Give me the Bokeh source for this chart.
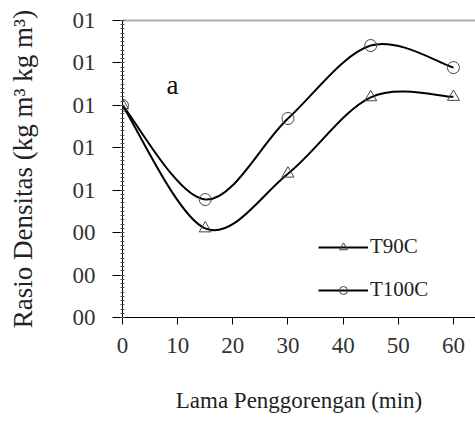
import numpy as np
from bokeh.plotting import figure
from bokeh.models import (LinearAxis, FixedTicker, Label, Legend, LegendItem, Range1d)
from bokeh.embed import file_html
from bokeh.resources import INLINE

# ---- data ----
minutes = [0, 15, 30, 45, 60]
t90c = [5.0, 2.1, 3.39, 5.19, 5.2]
t100c = [5.0, 2.78, 4.69, 6.41, 5.89]
y_ticks = [0, 1, 2, 3, 4, 5, 6, 7]
y_tick_labels = ["00", "00", "00", "01", "01", "01", "01", "01"]
x_ticks = [0, 10, 20, 30, 40, 50, 60]
series_names = ["T90C", "T100C"]

FONT = "Liberation Serif"

p = figure(frame_width=353, frame_height=297,
           x_range=Range1d(0, 64), y_range=Range1d(0, 7),
           output_backend="svg", toolbar_location=None,
           min_border_left=122, min_border_right=0, min_border_top=20,
           min_border_bottom=104)
p.outline_line_color = None
p.xgrid.visible = False
p.ygrid.visible = False
p.background_fill_color = "white"
p.border_fill_color = "white"


def smooth_segments(xs, ys, k=1.0 / 6.0):
    n = len(xs)
    P = [np.array([xs[i], ys[i]], dtype=float) for i in range(n)]
    out = {k_: [] for k_ in ["x0", "y0", "x1", "y1", "cx0", "cy0", "cx1", "cy1"]}
    for i in range(n - 1):
        pm = P[i - 1] if i > 0 else P[i]
        pn2 = P[i + 2] if i + 2 < n else P[i + 1]
        c0 = P[i] + (P[i + 1] - pm) * k
        c1 = P[i + 1] - (pn2 - P[i]) * k
        out["x0"].append(P[i][0]); out["y0"].append(P[i][1])
        out["x1"].append(P[i + 1][0]); out["y1"].append(P[i + 1][1])
        out["cx0"].append(c0[0]); out["cy0"].append(c0[1])
        out["cx1"].append(c1[0]); out["cy1"].append(c1[1])
    return out


items = []
for name, vals, marker in [(series_names[0], t90c, "triangle"),
                           (series_names[1], t100c, "circle")]:
    seg = smooth_segments(minutes, vals)
    p.bezier(line_color="black", line_width=2, **seg)
    sc = p.scatter(minutes, vals, marker=marker, size=12, fill_color=None,
                   line_color="#444444", line_width=1)
    # legend-only line (no drawn data)
    lr = p.line(x=[np.nan], y=[np.nan], line_color="black", line_width=2)
    items.append(LegendItem(label=name, renderers=[lr, sc]))

legend = Legend(items=items, location=(196, 15), orientation="vertical",
                background_fill_alpha=0, border_line_color=None,
                padding=0, margin=0, spacing=18, glyph_width=50,
                glyph_height=20, label_height=20, label_standoff=2,
                label_text_font=FONT, label_text_font_size="21px",
                label_text_color="#222222")
p.add_layout(legend, "center")

p.add_layout(Label(x=9.06, y=5.47, text="a", text_font=FONT,
                   text_font_size="27px", text_align="center",
                   text_baseline="middle", text_color="#111111"))

# axes
xa = p.xaxis[0]
xa.ticker = FixedTicker(ticks=x_ticks)
xa.major_tick_out = 7
xa.major_tick_in = 0
xa.minor_tick_out = 0
xa.minor_tick_in = 0
xa.axis_line_color = "black"
xa.major_tick_line_color = "black"
xa.major_label_text_font = FONT
xa.major_label_text_font_size = "23px"
xa.major_label_text_color = "#333333"
xa.major_label_standoff = 13
xa.axis_label = "Lama Penggorengan (min)"
xa.axis_label_text_font = FONT
xa.axis_label_text_font_size = "23px"
xa.axis_label_text_font_style = "normal"
xa.axis_label_text_color = "#222222"
xa.axis_label_standoff = 32

ya = p.yaxis[0]
ya.ticker = FixedTicker(ticks=y_ticks, minor_ticks=list(np.arange(0, 7.01, 0.1)))
ya.major_label_overrides = {t: l for t, l in zip(y_ticks, y_tick_labels)}
ya.major_tick_out = 10
ya.major_tick_in = 0
ya.minor_tick_out = 2
ya.minor_tick_in = 2
ya.minor_tick_line_color = "#555555"
ya.axis_line_color = "black"
ya.major_tick_line_color = "black"
ya.major_label_text_font = FONT
ya.major_label_text_font_size = "23px"
ya.major_label_text_color = "#333333"
ya.major_label_standoff = 17
ya.axis_label = "Rasio Densitas (kg m³ kg m³)"
ya.axis_label_text_font = FONT
ya.axis_label_text_font_size = "27px"
ya.axis_label_text_font_style = "normal"
ya.axis_label_text_color = "#222222"
ya.axis_label_standoff = 32

top = LinearAxis(ticker=FixedTicker(ticks=[]), axis_line_color="#aaaaaa",
                 axis_line_width=2, major_tick_out=0, major_tick_in=0,
                 minor_tick_out=0, minor_tick_in=0, major_label_standoff=0)
p.add_layout(top, "above")

open("out.html", "w").write(file_html(p, INLINE))
